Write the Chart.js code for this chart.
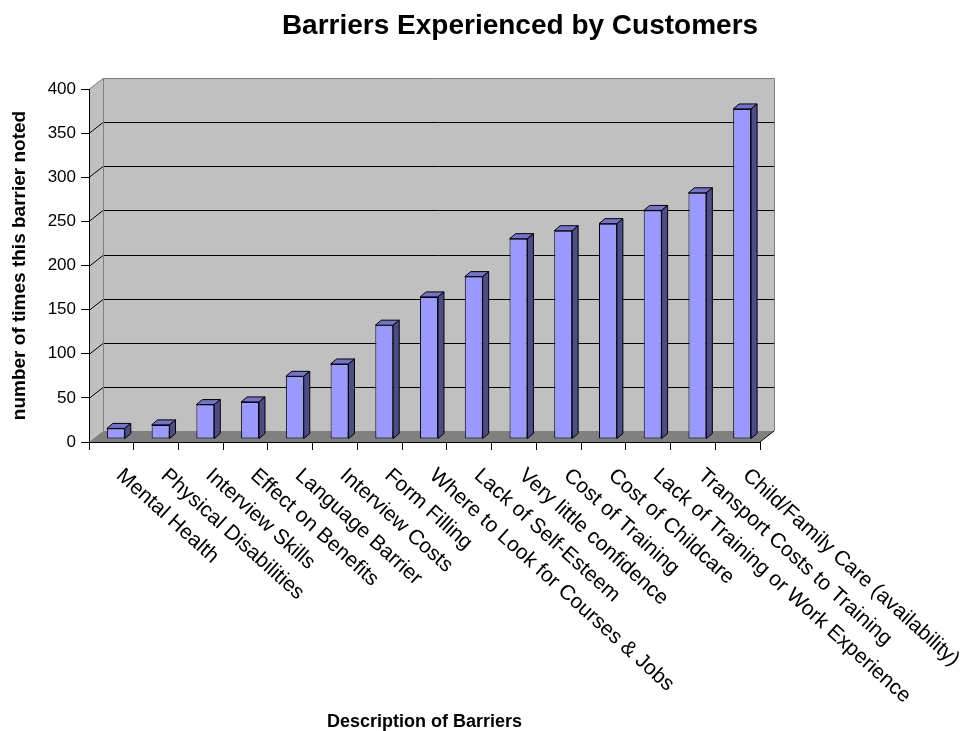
<!DOCTYPE html>
<html>
<head>
  <meta charset="utf-8">
  <title>Barriers Experienced by Customers</title>
  <script src="https://cdn.jsdelivr.net/npm/chart.js"></script>
  <style>
    html, body { margin: 0; padding: 0; background: #fff; }
    #wrap { width: 969px; height: 731px; position: relative; }
  </style>
</head>
<body>
  <div id="wrap"><canvas id="chart-barriers"></canvas></div>

  <script>
    // data
    const barriers = [
      'Mental Health', 'Physical Disabilities', 'Interview Skills', 'Effect on Benefits',
      'Language Barrier', 'Interview Costs', 'Form Filling', 'Where to Look for Courses & Jobs',
      'Lack of Self-Esteem', 'Very little confidence', 'Cost of Training', 'Cost of Childcare',
      'Lack of Training or Work Experience', 'Transport Costs to Training', 'Child/Family Care (availability)'
    ];
    const timesNoted = [12, 16, 39, 42, 71, 85, 129, 161, 184, 227, 236, 244, 259, 279, 374];
    const yTicks = [0, 50, 100, 150, 200, 250, 300, 350, 400];

    const chartTitle = 'Barriers Experienced by Customers';
    const xTitle = 'Description of Barriers';
    const yTitle = 'number of times this barrier noted';

    const FONT = "'Liberation Sans', Arial, sans-serif";
    const DX = 14, DY = 11;          // depth of the 3d box
    const BAR_DX = 6, BAR_DY = 5;    // depth of each bar
    const SHIFT_X = 4.5, SHIFT_Y = -3;

    function px(v) { return Math.round(v) + 0.5; }

    const box3d = {
      id: 'box3d',
      beforeDraw(chart) {
        const { ctx, chartArea: a } = chart;
        const ys = chart.scales.y;
        const L = a.left, R = a.right, T = a.top, B = a.bottom;
        ctx.save();
        ctx.fillStyle = '#c0c0c0';
        ctx.beginPath();
        ctx.moveTo(L, T); ctx.lineTo(L + DX, T - DY); ctx.lineTo(L + DX, B - DY); ctx.lineTo(L, B);
        ctx.closePath(); ctx.fill();
        ctx.fillRect(L + DX, T - DY, R - L, B - T);
        ctx.fillStyle = '#808080';
        ctx.beginPath();
        ctx.moveTo(L, B); ctx.lineTo(L + DX, B - DY); ctx.lineTo(R + DX, B - DY); ctx.lineTo(R, B);
        ctx.closePath(); ctx.fill();

        // grid lines on the side and back walls
        ctx.lineWidth = 1;
        ctx.strokeStyle = '#000';
        yTicks.forEach(v => {
          if (v === 0 || v === yTicks[yTicks.length - 1]) return;
          const y = ys.getPixelForValue(v);
          ctx.beginPath();
          ctx.moveTo(L, px(y));
          ctx.lineTo(L + DX, px(y - DY));
          ctx.lineTo(R + DX, px(y - DY));
          ctx.stroke();
        });

        // wall edges
        ctx.strokeStyle = '#808080';
        ctx.beginPath();
        ctx.moveTo(L, px(T)); ctx.lineTo(L + DX, px(T - DY));
        ctx.lineTo(px(R + DX), px(T - DY)); ctx.lineTo(px(R + DX), B - DY);
        ctx.moveTo(px(L + DX), px(T - DY)); ctx.lineTo(px(L + DX), B - DY);
        ctx.stroke();
        ctx.strokeStyle = '#000';
        ctx.beginPath();
        ctx.moveTo(R, B); ctx.lineTo(R + DX, B - DY);
        ctx.stroke();
        ctx.restore();
      },
      beforeDatasetsDraw(chart) {
        chart.ctx.save();
        chart.ctx.translate(SHIFT_X, SHIFT_Y);
      },
      afterDatasetsDraw(chart) {
        const ctx = chart.ctx;
        const bars = chart.getDatasetMeta(0).data;
        ctx.lineWidth = 1;
        ctx.strokeStyle = '#000';
        bars.forEach(b => {
          const l = b.x - b.width / 2, r = b.x + b.width / 2;
          const t = b.y, base = b.base;
          // top face
          ctx.fillStyle = '#7373cc';
          ctx.beginPath();
          ctx.moveTo(l, t); ctx.lineTo(l + BAR_DX, t - BAR_DY);
          ctx.lineTo(r + BAR_DX, t - BAR_DY); ctx.lineTo(r, t);
          ctx.closePath(); ctx.fill(); ctx.stroke();
          // side face
          ctx.fillStyle = '#4c4c88';
          ctx.beginPath();
          ctx.moveTo(r, t); ctx.lineTo(r + BAR_DX, t - BAR_DY);
          ctx.lineTo(r + BAR_DX, base - BAR_DY); ctx.lineTo(r, base);
          ctx.closePath(); ctx.fill(); ctx.stroke();
        });
        ctx.restore();
      },
      afterDraw(chart) {
        const ctx = chart.ctx;
        const xs = chart.scales.x;
        ctx.save();
        ctx.fillStyle = '#000';
        ctx.font = 'bold 28px ' + FONT;
        ctx.textAlign = 'center';
        ctx.textBaseline = 'alphabetic';
        ctx.fillText(chartTitle, 520, 34);

        // slanted category labels
        ctx.font = '21px ' + FONT;
        ctx.textAlign = 'left';
        barriers.forEach((name, i) => {
          const cx = xs.getPixelForValue(i);
          ctx.save();
          ctx.translate(cx + 4, 477);
          ctx.rotate(42 * Math.PI / 180);
          ctx.fillText(name, 0, 0);
          ctx.restore();
        });
        ctx.restore();
      }
    };

    const chart = new Chart(document.getElementById('chart-barriers'), {
      type: 'bar',
      data: {
        labels: barriers,
        datasets: [{
          data: timesNoted,
          backgroundColor: '#9999ff',
          borderColor: '#000',
          borderWidth: 1,
          borderSkipped: false,
          barPercentage: 0.4,
          categoryPercentage: 1,
          clip: false
        }]
      },
      options: {
        responsive: true,
        maintainAspectRatio: false,
        animation: false,
        layout: { padding: { top: 89, right: 209, left: 0, bottom: 0 } },
        plugins: {
          legend: { display: false },
          tooltip: { enabled: false }
        },
        scales: {
          x: {
            grid: { drawOnChartArea: false, drawTicks: true, tickLength: 8, color: '#000', offset: true },
            border: { color: '#000', width: 1 },
            ticks: { display: false },
            title: { display: true, text: xTitle, color: '#000', font: { family: FONT, size: 18, weight: 'bold', lineHeight: 1 }, padding: { top: 0, bottom: 0 } },
            afterFit(s) { s.height = 731 - 442; }
          },
          y: {
            min: 0,
            max: 400,
            ticks: { stepSize: 50, color: '#000', font: { family: FONT, size: 17 }, padding: 5 },
            grid: { drawOnChartArea: false, drawTicks: true, tickLength: 8, color: '#000' },
            border: { color: '#000', width: 1 },
            title: { display: true, text: yTitle, color: '#000', font: { family: FONT, size: 19, weight: 'bold' }, padding: { top: 8, bottom: 0 } },
            afterFit(s) { s.width = 89; }
          }
        }
      },
      plugins: [box3d]
    });
  </script>
</body>
</html>
